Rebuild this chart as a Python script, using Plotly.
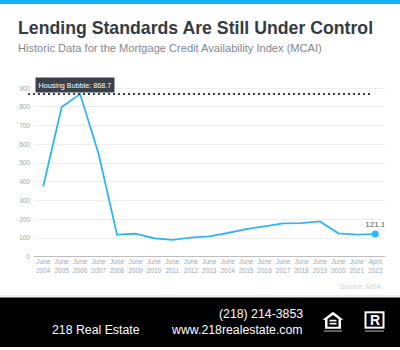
import plotly.graph_objects as go

W, H = 400, 350

# ---- data ----
categories = ["June<br>2004", "June<br>2005", "June<br>2006", "June<br>2007", "June<br>2008",
              "June<br>2009", "June<br>2010", "June<br>2011", "June<br>2012", "June<br>2013",
              "June<br>2014", "June<br>2015", "June<br>2016", "June<br>2017", "June<br>2018",
              "June<br>2019", "June<br>2020", "June<br>2021", "April<br>2022"]
mcai = [375, 800, 868.7, 550, 118, 123, 99, 90, 102, 109, 127, 148, 162, 178, 180, 189, 125, 118, 121.1]
bubble_value = 868.7
y_ticks = [0, 100, 200, 300, 400, 500, 600, 700, 800, 900]


def px(x):
    return x / W


def py(y):
    return 1 - y / H


fig = go.Figure()

fig.add_trace(go.Scatter(
    x=categories, y=mcai, mode="lines",
    line=dict(color="#2db5f5", width=1.8),
    hoverinfo="skip", showlegend=False))

fig.add_trace(go.Scatter(
    x=[categories[-1]], y=[mcai[-1]], mode="markers+text",
    marker=dict(color="#2db5f5", size=7),
    text=[f"{mcai[-1]:.1f}"], textposition="top center",
    textfont=dict(family="Liberation Sans, Arial", size=8, color="#555555"),
    hoverinfo="skip", showlegend=False))

fig.update_layout(
    width=W, height=H,
    margin=dict(l=0, r=0, t=0, b=0),
    paper_bgcolor="white", plot_bgcolor="white",
    showlegend=False,
    xaxis=dict(domain=[px(34), px(384.5)], type="category", range=[-0.5, 18.5],
               showgrid=False, zeroline=False, showline=False, ticks="",
               tickfont=dict(family="Liberation Sans, Arial", size=6.5, color="#a0a8b0"),
               fixedrange=True),
    yaxis=dict(domain=[py(259), py(80)], range=[0, 947.6],
               tickvals=y_ticks, showgrid=True, gridcolor="#eeeeee", gridwidth=1,
               zeroline=True, zerolinecolor="#bdbdbd", zerolinewidth=1,
               showline=False, ticks="", ticklabelstandoff=3,
               tickfont=dict(family="Liberation Sans, Arial", size=6.5, color="#a0a8b0"),
               fixedrange=True),
)

shapes = []
# top blue bar
shapes.append(dict(type="rect", xref="paper", yref="paper", x0=0, x1=1, y0=py(4), y1=1,
                   fillcolor="#1aaef0", line=dict(width=0), layer="above"))
# bubble dotted line
shapes.append(dict(type="line", xref="paper", yref="y", x0=px(28), x1=px(373),
                   y0=bubble_value, y1=bubble_value,
                   line=dict(color="#3a3f45", width=2, dash="2px,3px")))
# footer separator + black footer
shapes.append(dict(type="line", xref="paper", yref="paper", x0=0, x1=1, y0=py(298.5), y1=py(298.5),
                   line=dict(color="#dddddd", width=1)))
shapes.append(dict(type="rect", xref="paper", yref="paper", x0=0, x1=1, y0=0, y1=py(300),
                   fillcolor="black", line=dict(width=0)))


def poly(pts):
    s = "M " + " L ".join(f"{px(a):.5f},{py(b):.5f}" for a, b in pts) + " Z"
    return s


def rect(x0, y0, x1, y1, color):
    return dict(type="rect", xref="paper", yref="paper", x0=px(x0), x1=px(x1),
                y0=py(y1), y1=py(y0), fillcolor=color, line=dict(width=0))


# equal housing icon
shapes.append(dict(type="path", xref="paper", yref="paper",
                   path=poly([(322.5, 322.5), (333, 314.5), (343.5, 322.5), (341, 322.5),
                              (341, 331.5), (325, 331.5), (325, 322.5)]),
                   fillcolor="white", line=dict(width=0)))
shapes.append(dict(type="path", xref="paper", yref="paper",
                   path=poly([(327.5, 321.8), (333, 317.6), (338.5, 321.8), (338.5, 329.5), (327.5, 329.5)]),
                   fillcolor="black", line=dict(width=0)))
shapes.append(rect(329.5, 322.5, 336.5, 324.2, "white"))
shapes.append(rect(329.5, 325.6, 336.5, 327.3, "white"))
shapes.append(rect(324, 333.2, 342, 334.6, "#8a8a8a"))
# realtor icon
shapes.append(rect(364.5, 314, 384.5, 331.5, "white"))
shapes.append(rect(366.5, 316, 382.5, 329.5, "black"))
shapes.append(rect(365, 333.2, 384, 334.6, "#8a8a8a"))
fig.update_layout(shapes=shapes)

ann = []
ann.append(dict(text="<b>Lending Standards Are Still Under Control</b>", xref="paper", yref="paper",
                x=px(16), y=py(28), xanchor="left", yanchor="middle", showarrow=False,
                font=dict(family="Liberation Sans, Arial", size=17.7, color="#353b42")))
ann.append(dict(text="Historic Data for the Mortgage Credit Availability Index (MCAI)", xref="paper",
                yref="paper", x=px(16), y=py(48), xanchor="left", yanchor="middle", showarrow=False,
                font=dict(family="Liberation Sans, Arial", size=11.1, color="#7f8890")))
ann.append(dict(text=f"Housing Bubble: {bubble_value}", xref="paper", yref="paper",
                x=px(35), y=py(85.5), xanchor="left", yanchor="middle", showarrow=False,
                bgcolor="#3b4148", borderpad=2.5,
                font=dict(family="Liberation Sans, Arial", size=7.2, color="white")))
ann.append(dict(text="Source: MBA", xref="paper", yref="paper", x=px(384), y=py(289),
                xanchor="right", yanchor="middle", showarrow=False,
                font=dict(family="Liberation Sans, Arial", size=7, color="#d0d4d8")))
ann.append(dict(text="218 Real Estate", xref="paper", yref="paper", x=px(50), y=py(333),
                xanchor="left", yanchor="middle", showarrow=False,
                font=dict(family="Liberation Sans, Arial", size=12.3, color="white")))
ann.append(dict(text="(218) 214-3853", xref="paper", yref="paper", x=px(305), y=py(317),
                xanchor="right", yanchor="middle", showarrow=False,
                font=dict(family="Liberation Sans, Arial", size=12.3, color="white")))
ann.append(dict(text="www.218realestate.com", xref="paper", yref="paper", x=px(305), y=py(333),
                xanchor="right", yanchor="middle", showarrow=False,
                font=dict(family="Liberation Sans, Arial", size=12.3, color="white")))
ann.append(dict(text="<b>R</b>", xref="paper", yref="paper", x=px(374.5), y=py(323),
                xanchor="center", yanchor="middle", showarrow=False,
                font=dict(family="Liberation Sans, Arial", size=14, color="white")))
fig.update_layout(annotations=ann)

fig.write_html("out.html")
